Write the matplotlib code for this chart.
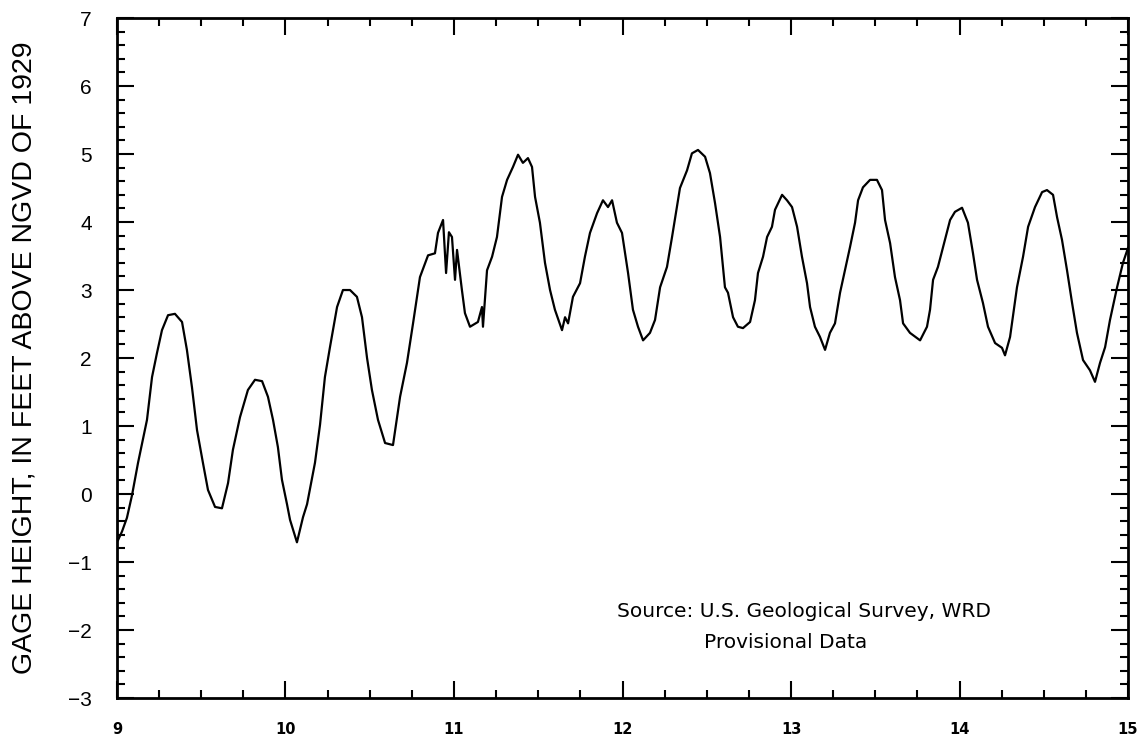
import numpy as np
import matplotlib
matplotlib.use('Agg')
import matplotlib.pyplot as plt
from matplotlib.ticker import MultipleLocator

# time in days (x axis), gage height in feet
days = [
    9.006, 9.030, 9.059, 9.089, 9.125, 9.178, 9.208, 9.237, 9.267, 9.303,
    9.344, 9.386, 9.415, 9.445, 9.475, 9.510, 9.540, 9.582, 9.623, 9.659,
    9.688, 9.730, 9.777, 9.819, 9.861, 9.896, 9.926, 9.955, 9.979, 10.009,
    10.027, 10.068, 10.104, 10.128, 10.175, 10.205, 10.234, 10.264, 10.306, 10.341,
    10.383, 10.424, 10.454, 10.484, 10.513, 10.549, 10.591, 10.638, 10.680, 10.721,
    10.757, 10.798, 10.846, 10.887, 10.905, 10.935, 10.953, 10.970, 10.988, 11.006,
    11.018, 11.047, 11.065, 11.095, 11.142, 11.166, 11.172, 11.196, 11.226, 11.255,
    11.285, 11.315, 11.350, 11.380, 11.409, 11.439, 11.463, 11.481, 11.510, 11.540,
    11.570, 11.599, 11.641, 11.659, 11.677, 11.706, 11.748, 11.777, 11.807, 11.849,
    11.884, 11.914, 11.938, 11.967, 11.997, 12.033, 12.062, 12.092, 12.122, 12.163,
    12.193, 12.223, 12.264, 12.294, 12.323, 12.341, 12.383, 12.412, 12.448, 12.490,
    12.519, 12.549, 12.579, 12.608, 12.626, 12.656, 12.685, 12.715, 12.757, 12.786,
    12.804, 12.834, 12.858, 12.887, 12.905, 12.947, 12.976, 13.006, 13.036, 13.065,
    13.095, 13.113, 13.142, 13.172, 13.202, 13.231, 13.261, 13.291, 13.320, 13.350,
    13.380, 13.398, 13.427, 13.469, 13.510, 13.540, 13.558, 13.588, 13.617, 13.647,
    13.665, 13.706, 13.766, 13.807, 13.825, 13.843, 13.872, 13.914, 13.944, 13.973,
    14.015, 14.050, 14.080, 14.104, 14.139, 14.169, 14.211, 14.252, 14.270, 14.300,
    14.341, 14.377, 14.407, 14.448, 14.490, 14.519, 14.555, 14.579, 14.608, 14.638,
    14.668, 14.697, 14.733, 14.774, 14.804, 14.834, 14.864, 14.893, 14.935, 14.970,
    15.000,
]
gage_height = [
    -0.68, -0.55, -0.35, -0.02, 0.46, 1.09, 1.72, 2.07, 2.41, 2.63,
    2.65, 2.53, 2.12, 1.57, 0.94, 0.46, 0.06, -0.19, -0.21, 0.16,
    0.65, 1.13, 1.53, 1.68, 1.66, 1.43, 1.09, 0.69, 0.21, -0.15,
    -0.38, -0.71, -0.34, -0.15, 0.46, 1.02, 1.72, 2.16, 2.75, 3.00,
    3.00, 2.90, 2.60, 2.00, 1.53, 1.09, 0.75, 0.72, 1.43, 1.93,
    2.51, 3.19, 3.51, 3.54, 3.84, 4.03, 3.25, 3.85, 3.78, 3.15,
    3.59, 3.00, 2.66, 2.46, 2.53, 2.75, 2.46, 3.29, 3.49, 3.78,
    4.37, 4.62, 4.81, 4.99, 4.87, 4.94, 4.81, 4.37, 3.99, 3.40,
    3.00, 2.71, 2.41, 2.60, 2.51, 2.90, 3.10, 3.49, 3.84, 4.13,
    4.32, 4.22, 4.32, 3.99, 3.84, 3.25, 2.71, 2.46, 2.26, 2.37,
    2.56, 3.04, 3.34, 3.78, 4.22, 4.50, 4.76, 5.01, 5.06, 4.96,
    4.72, 4.28, 3.78, 3.04, 2.96, 2.60, 2.46, 2.44, 2.53, 2.85,
    3.25, 3.49, 3.78, 3.93, 4.18, 4.40, 4.32, 4.22, 3.93, 3.49,
    3.10, 2.75, 2.46, 2.31, 2.12, 2.37, 2.51, 2.96, 3.29, 3.63,
    3.99, 4.32, 4.51, 4.62, 4.62, 4.47, 4.03, 3.69, 3.19, 2.85,
    2.51, 2.37, 2.26, 2.46, 2.71, 3.15, 3.34, 3.74, 4.03, 4.15,
    4.21, 3.99, 3.54, 3.15, 2.81, 2.46, 2.22, 2.15, 2.04, 2.31,
    3.04, 3.49, 3.93, 4.22, 4.44, 4.47, 4.40, 4.07, 3.74, 3.29,
    2.81, 2.37, 1.97, 1.82, 1.65, 1.93, 2.16, 2.56, 3.04, 3.40,
    3.62,
]

x_ticks = [9, 10, 11, 12, 13, 14, 15]
y_ticks = [-3, -2, -1, 0, 1, 2, 3, 4, 5, 6, 7]

fig = plt.figure(figsize=(11.48, 7.36), dpi=100)
ax = fig.add_axes([0.1019, 0.0516, 0.8807, 0.9239])

ax.plot(days, gage_height, color='black', linewidth=1.6)

ax.set_xlim(9, 15)
ax.set_ylim(-3, 7)
ax.set_xticks(x_ticks)
ax.set_yticks(y_ticks)
ax.xaxis.set_minor_locator(MultipleLocator(0.25))
ax.yaxis.set_minor_locator(MultipleLocator(0.2))

ax.tick_params(which='both', direction='in', top=True, right=True, width=1.5, color='black')
ax.tick_params(which='major', length=12)
ax.tick_params(which='minor', length=6)
ax.tick_params(axis='x', which='major', pad=17)
ax.tick_params(axis='y', which='major', pad=18)

for lab in ax.get_xticklabels():
    lab.set_fontfamily('DejaVu Sans')
    lab.set_fontweight('bold')
    lab.set_fontsize(10.5)
for lab in ax.get_yticklabels():
    lab.set_fontfamily('Liberation Sans')
    lab.set_fontsize(15)

for sp in ax.spines.values():
    sp.set_linewidth(2)

ax.set_ylabel('GAGE HEIGHT, IN FEET ABOVE NGVD OF 1929', fontsize=20.5,
              family='Liberation Sans', labelpad=22)

ax.text(13.08, -1.73, 'Source: U.S. Geological Survey, WRD', ha='center', va='center',
        fontsize=14.5, family='DejaVu Sans')
ax.text(12.97, -2.18, 'Provisional Data', ha='center', va='center',
        fontsize=14.5, family='DejaVu Sans')

fig.savefig('out.png', dpi=100)
